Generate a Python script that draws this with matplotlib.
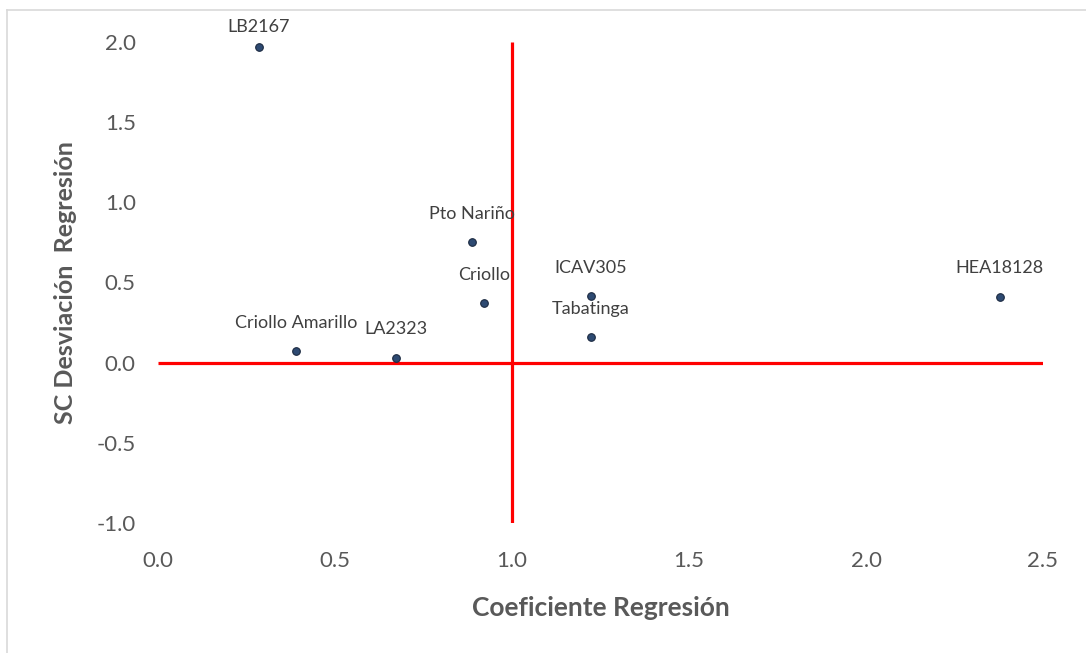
import matplotlib
matplotlib.use("Agg")
import matplotlib.pyplot as plt
from matplotlib.lines import Line2D

names = ["LB2167", "Criollo Amarillo", "LA2323", "Pto Nariño", "Criollo",
         "ICAV305", "Tabatinga", "HEA18128"]
coef = [0.285, 0.39, 0.672, 0.887, 0.921, 1.223, 1.223, 2.378]
sdev = [1.97, 0.075, 0.03, 0.754, 0.374, 0.417, 0.162, 0.41]
label_dy = [14, 20, 21, 20, 20, 20, 20, 21]  # points above marker

hline_x = [0.0, 2.5]
hline_y = [0.0, 0.0]
vline_x = [1.0, 1.0]
vline_y = [-1.0, 2.0]

xticks = [0.0, 0.5, 1.0, 1.5, 2.0, 2.5]
yticks = [-1.0, -0.5, 0.0, 0.5, 1.0, 1.5, 2.0]

plt.rcParams['font.family'] = ['Lato', 'DejaVu Sans']

fig = plt.figure(figsize=(10.86, 6.53), dpi=100)
ax = fig.add_axes([158/1086, 1-523/653, 885/1086, 481/653])

ax.plot(hline_x, hline_y, color='#FF0000', lw=2.3, zorder=2, solid_capstyle='butt')
ax.plot(vline_x, vline_y, color='#FF0000', lw=2.3, zorder=2, solid_capstyle='butt')
ax.scatter(coef, sdev, s=30, color='#2E4A72', edgecolors='#1B2940', linewidths=0.8, zorder=3)

for n, x, y, dy in zip(names, coef, sdev, label_dy):
    ax.annotate(n, (x, y), xytext=(0, dy), textcoords='offset points',
                ha='center', va='center', fontsize=13, color='#404040',
                annotation_clip=False, zorder=4)

ax.set_xlim(0, 2.5)
ax.set_ylim(-1.0, 2.0)
ax.set_xticks(xticks)
ax.set_yticks(yticks)
ax.set_xticklabels([f"{t:.1f}" for t in xticks])
ax.set_yticklabels([f"{t:.1f}" for t in yticks])
ax.tick_params(axis='both', length=0, labelsize=16, labelcolor='#595959')
ax.tick_params(axis='x', pad=20)
ax.tick_params(axis='y', pad=16)
for s in ax.spines.values():
    s.set_visible(False)

ax.set_xlabel("Coeficiente Regresión", fontsize=19, fontweight='bold',
              color='#595959', labelpad=18)
ax.set_ylabel("SC Desviación  Regresión", fontsize=18, fontweight='bold',
              color='#595959', labelpad=14)

fig.add_artist(Line2D([7/1086, 1], [1-10/653, 1-10/653], color='#D9D9D9', lw=1.2,
                      transform=fig.transFigure))
fig.add_artist(Line2D([7/1086, 7/1086], [0, 1-10/653], color='#D9D9D9', lw=1.2,
                      transform=fig.transFigure))

fig.savefig("out.png", dpi=100, facecolor='white')
